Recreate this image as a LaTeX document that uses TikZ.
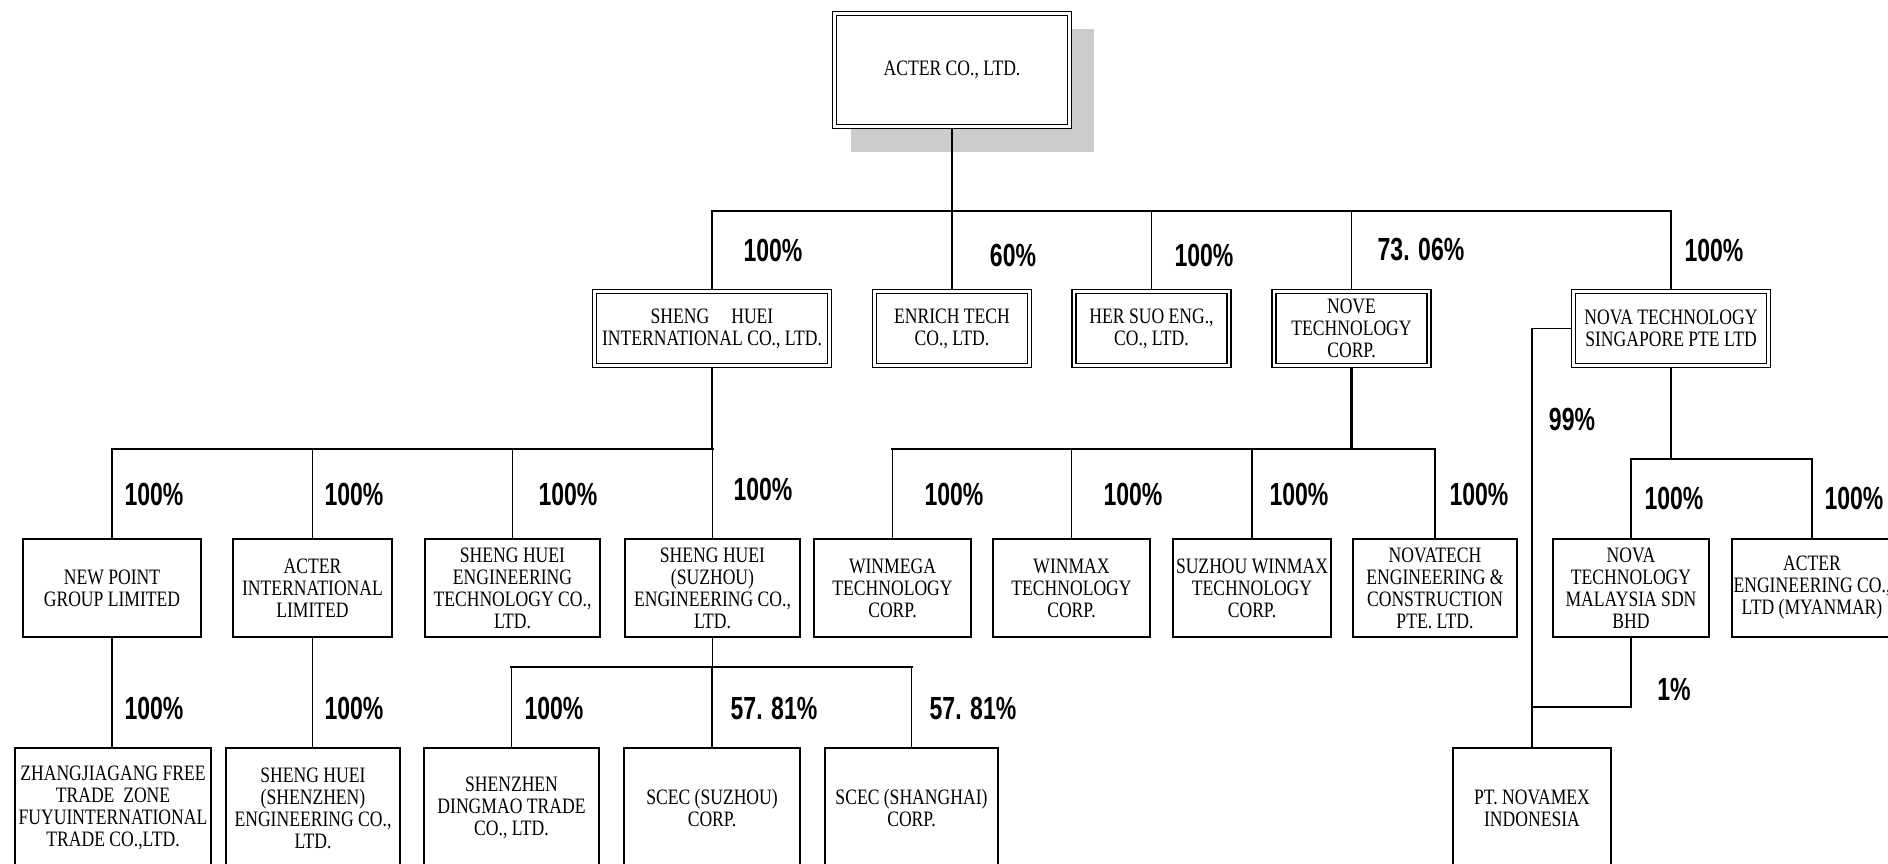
\documentclass[tikz,border=0pt]{standalone}
\usepackage{fontspec}
\setmainfont{Liberation Serif}[FakeStretch=0.80]
\newfontfamily\pctfont{Liberation Sans}[FakeStretch=0.72]
\begin{document}
\begin{tikzpicture}[x=0.5pt,y=-0.5pt,
  box/.style={draw, line width=0.8pt, fill=white, align=center, inner sep=0pt,
    font=\fontsize{11}{11}\selectfont},
  dbox/.style={box, double, double distance=1.4pt, line width=0.6pt, outer sep=1.3pt},
  pct/.style={font=\pctfont\bfseries\fontsize{16}{16}\selectfont, inner sep=0pt},
  bus/.style={line width=1.1pt, line cap=rect},
  drop/.style={line width=0.75pt}]
\useasboundingbox (0,0) rectangle (1888,863);
\clip (0,0) rectangle (1888,863);
\fill[white] (0,0) rectangle (1888,863);
% shadow of the top box
\fill[black!20] (851,29) rectangle (1094,152);
% top
\node[dbox, minimum width=117.5pt, minimum height=56.5pt] (top) at (952,70) {ACTER CO., LTD.};
% level 1
\node[dbox, minimum width=117.5pt, minimum height=37pt] (shi) at (712,328.5) {SHENG\quad HUEI\\INTERNATIONAL CO., LTD.};
\node[dbox, minimum width=77.5pt, minimum height=37pt] (enr) at (952,328.5) {ENRICH TECH\\CO., LTD.};
\node[dbox, minimum width=77.5pt, minimum height=37pt] (hsu) at (1151.5,328.5) {HER SUO ENG.,\\CO., LTD.};
\node[dbox, minimum width=77.5pt, minimum height=37pt] (nove) at (1351.5,328.5) {NOVE\\TECHNOLOGY\\CORP.};
\node[dbox, minimum width=97.5pt, minimum height=37pt] (nsg) at (1671,328.5) {NOVA TECHNOLOGY\\SINGAPORE PTE LTD};
% level 2
\node[box, minimum width=89.2pt, minimum height=49.2pt] (np) at (112,588) {NEW POINT\\GROUP LIMITED};
\node[box, minimum width=79.7pt, minimum height=49.2pt] (ai) at (312.5,588) {ACTER\\INTERNATIONAL\\LIMITED};
\node[box, minimum width=87.7pt, minimum height=49.2pt] (she) at (512.5,588) {SHENG HUEI\\ENGINEERING\\TECHNOLOGY CO.,\\LTD.};
\node[box, minimum width=87.7pt, minimum height=49.2pt] (shs) at (712.5,588) {SHENG HUEI\\(SUZHOU)\\ENGINEERING CO.,\\LTD.};
\node[box, minimum width=78.7pt, minimum height=49.2pt] (wmg) at (892.5,588) {WINMEGA\\TECHNOLOGY\\CORP.};
\node[box, minimum width=78.7pt, minimum height=49.2pt] (wmx) at (1071.5,588) {WINMAX\\TECHNOLOGY\\CORP.};
\node[box, minimum width=79.2pt, minimum height=49.2pt] (swm) at (1252,588) {SUZHOU WINMAX\\TECHNOLOGY\\CORP.};
\node[box, minimum width=82.2pt, minimum height=49.2pt] (ntc) at (1435,588) {NOVATECH\\ENGINEERING \&\\CONSTRUCTION\\PTE. LTD.};
\node[box, minimum width=78.2pt, minimum height=49.2pt] (nml) at (1631,588) {NOVA\\TECHNOLOGY\\MALAYSIA SDN\\BHD};
\node[box, minimum width=80.2pt, minimum height=49.2pt] (aem) at (1812,588) {ACTER\\ENGINEERING CO.,\\LTD (MYANMAR)};
% level 3
\node[box, minimum width=98.2pt, minimum height=60.2pt] (zfy) at (113,808) {ZHANGJIAGANG FREE\\TRADE\ \ ZONE\\FUYUINTERNATIONAL\\TRADE CO.,LTD.};
\node[box, minimum width=87.2pt, minimum height=60.2pt] (shz) at (313,808) {SHENG HUEI\\(SHENZHEN)\\ENGINEERING CO.,\\LTD.};
\node[box, minimum width=87.7pt, minimum height=60.2pt] (sdm) at (511.5,808) {SHENZHEN\\DINGMAO TRADE\\CO., LTD.};
\node[box, minimum width=88.2pt, minimum height=60.2pt] (scs) at (712,808) {SCEC (SUZHOU)\\CORP.};
\node[box, minimum width=86.7pt, minimum height=60.2pt] (scsh) at (911.5,808) {SCEC (SHANGHAI)\\CORP.};
\node[box, minimum width=79.2pt, minimum height=60.2pt] (ptn) at (1532,808) {PT. NOVAMEX\\INDONESIA};
% bus coordinates
\coordinate (b1) at (0,211);
\coordinate (b2) at (0,449);
\coordinate (b3) at (0,459);
\coordinate (b4) at (0,667);
\coordinate (j1) at (1532,707);
% level 1 connectors
\draw[bus] (top.south) -- (top.south |- b1);
\draw[bus] (shi.north |- b1) -- (nsg.north |- b1);
\foreach \n in {shi,enr,hsu,nove,nsg}
  \draw[drop] (\n.north) -- (\n.north |- b1);
% Sheng Huei branch
\draw[bus] (shi.south) -- (shi.south |- b2);
\draw[bus] (np.north |- b2) -- (shs.north |- b2);
\foreach \n in {np,ai,she,shs}
  \draw[drop] (\n.north) -- (\n.north |- b2);
% Nove branch
\draw[bus] (nove.south) -- (nove.south |- b2);
\draw[bus] (wmg.north |- b2) -- (ntc.north |- b2);
\foreach \n in {wmg,wmx,swm,ntc}
  \draw[drop] (\n.north) -- (\n.north |- b2);
% Nova Singapore branch
\draw[drop] (nsg.south) -- (nsg.south |- b3);
\draw[drop] (nml.north) |- (aem.north |- b3) -- (aem.north);
\draw[drop] (nsg.west) -| (ptn.north);
\draw[drop] (nml.south) |- (j1);
% level 3 connectors
\draw[drop] (np.south) -- (np.south |- zfy.north);
\draw[drop] (ai.south) -- (ai.south |- shz.north);
\draw[drop] (shs.south) -- (shs.south |- b4);
\draw[bus] (sdm.north |- b4) -- (scsh.north |- b4);
\foreach \n in {sdm,scs,scsh}
  \draw[drop] (\n.north) -- (\n.north |- b4);
% percentages
\node[pct] (p1) at (773,250) {100\%};
\node[pct] (p2) at (1013,255) {60\%};
\node[pct] (p3) at (1204,255) {100\%};
\node[pct] (p4) at (1421,250) {73. 06\%};
\node[pct] (p5) at (1714,250) {100\%};
\node[pct] (p6) at (154,494) {100\%};
\node[pct] (p7) at (354,494) {100\%};
\node[pct] (p8) at (568,494) {100\%};
\node[pct] (p9) at (763,489) {100\%};
\node[pct] (p10) at (954,494) {100\%};
\node[pct] (p11) at (1133,494) {100\%};
\node[pct] (p12) at (1299,494) {100\%};
\node[pct] (p13) at (1479,494) {100\%};
\node[pct] (p14) at (1674,498) {100\%};
\node[pct] (p15) at (1854,498) {100\%};
\node[pct] (p16) at (1572,419) {99\%};
\node[pct] (p17) at (154,708) {100\%};
\node[pct] (p18) at (354,708) {100\%};
\node[pct] (p19) at (554,708) {100\%};
\node[pct] (p20) at (774,708) {57. 81\%};
\node[pct] (p21) at (973,708) {57. 81\%};
\node[pct] (p22) at (1674,689) {1\%};
\end{tikzpicture}
\end{document}
